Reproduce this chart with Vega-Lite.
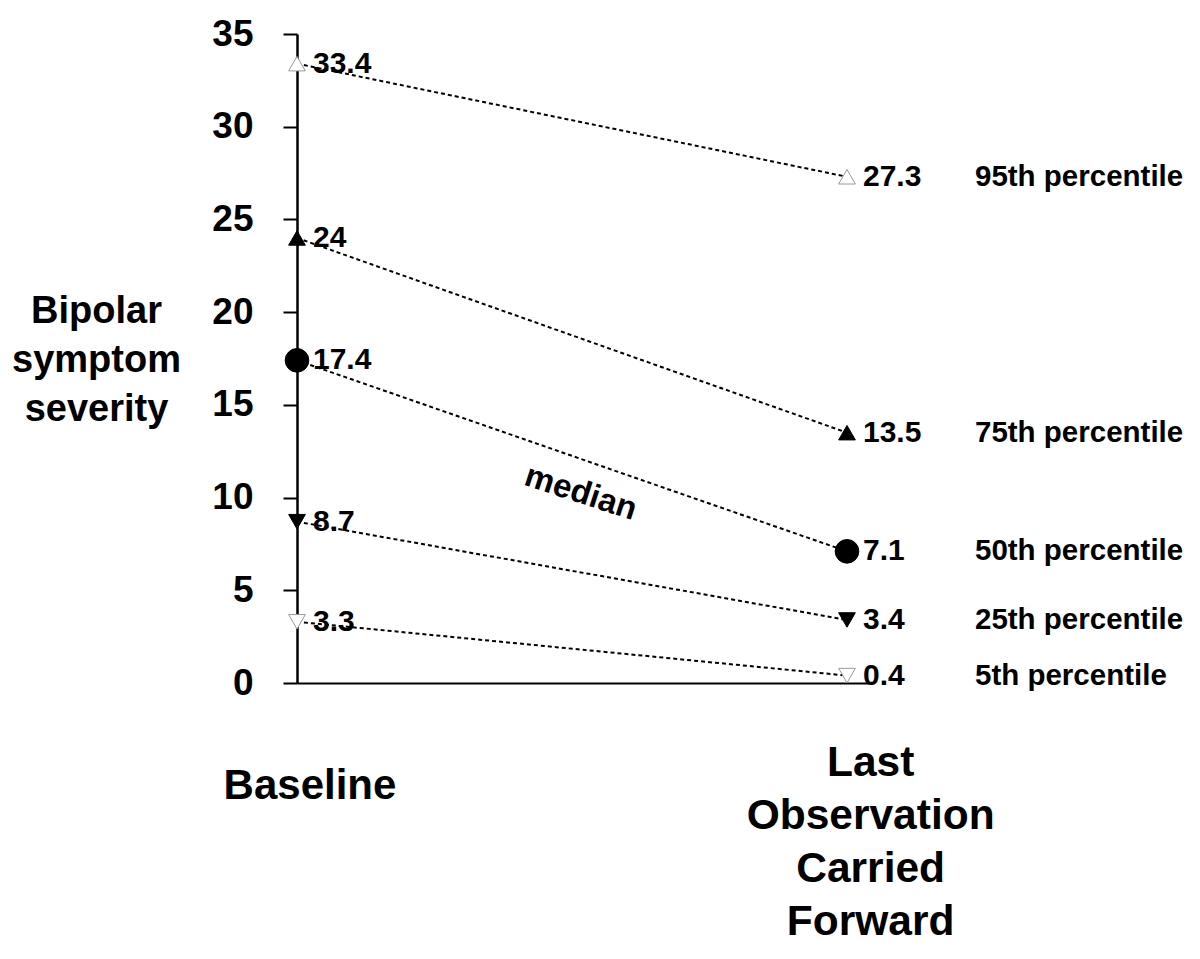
{
  "$schema": "https://vega.github.io/schema/vega-lite/v6.json",
  "autosize": {"type": "none"},
  "padding": {"left": 297, "top": 34, "right": 331, "bottom": 276},
  "width": 572,
  "height": 649,
  "background": "white",
  "config": {
    "view": {"stroke": null},
    "font": "Liberation Sans",
    "text": {"font": "Liberation Sans", "fontWeight": "bold", "color": "black"}
  },
  "datasets": {
    "series": [
      {"pct": "95th", "time": 0, "value": 33.4},
      {"pct": "95th", "time": 1, "value": 27.3},
      {"pct": "75th", "time": 0, "value": 24},
      {"pct": "75th", "time": 1, "value": 13.5},
      {"pct": "50th", "time": 0, "value": 17.4},
      {"pct": "50th", "time": 1, "value": 7.1},
      {"pct": "25th", "time": 0, "value": 8.7},
      {"pct": "25th", "time": 1, "value": 3.4},
      {"pct": "5th", "time": 0, "value": 3.3},
      {"pct": "5th", "time": 1, "value": 0.4}
    ],
    "pctLabels": [
      {"label": "95th percentile", "x": 1.2327, "y": 27.3},
      {"label": "75th percentile", "x": 1.2327, "y": 13.5},
      {"label": "50th percentile", "x": 1.2327, "y": 7.1},
      {"label": "25th percentile", "x": 1.2327, "y": 3.4},
      {"label": "5th percentile", "x": 1.2327, "y": 0.4}
    ]
  },
  "layer": [
    {
      "data": {"name": "series"},
      "mark": {"type": "line", "color": "black", "strokeWidth": 2, "strokeDash": [4, 3]},
      "encoding": {
        "x": {"field": "time", "type": "quantitative", "scale": {"domain": [0, 1.04], "nice": false, "zero": false},
              "axis": {"title": null, "labels": false, "ticks": false, "grid": false, "domain": true, "domainColor": "black", "domainWidth": 2}},
        "y": {"field": "value", "type": "quantitative", "scale": {"domain": [0, 35], "nice": false},
              "axis": {"values": [0, 5, 10, 15, 20, 25, 30, 35], "grid": false, "domainColor": "black", "domainWidth": 2.5,
                       "tickColor": "black", "tickWidth": 2, "tickSize": 14, "labelFontSize": 37, "labelFont": "Liberation Sans",
                       "labelFontWeight": "bold", "labelColor": "black", "labelPadding": 30,
                       "title": ["Bipolar", "symptom", "severity"], "titleAngle": 0, "titleX": -201, "titleY": 277,
                       "titleAlign": "center", "titleBaseline": "middle", "titleFontSize": 38, "titleFont": "Liberation Sans",
                       "titleFontWeight": "bold", "titleColor": "black", "titleLineHeight": 49}},
        "detail": {"field": "pct"}
      }
    },
    {
      "data": {"name": "series"},
      "mark": {"type": "point", "filled": true, "strokeWidth": 1, "opacity": 1},
      "encoding": {
        "x": {"field": "time", "type": "quantitative"},
        "y": {"field": "value", "type": "quantitative"},
        "shape": {"field": "pct", "type": "nominal", "legend": null,
                  "scale": {"domain": ["95th", "75th", "50th", "25th", "5th"], "range": ["triangle-up", "triangle-up", "circle", "triangle-down", "triangle-down"]}},
        "fill": {"field": "pct", "type": "nominal", "legend": null,
                 "scale": {"domain": ["95th", "75th", "50th", "25th", "5th"], "range": ["white", "black", "black", "black", "white"]}},
        "stroke": {"field": "pct", "type": "nominal", "legend": null,
                   "scale": {"domain": ["95th", "75th", "50th", "25th", "5th"], "range": ["#9a9a9a", "black", "black", "black", "#9a9a9a"]}},
        "size": {"field": "pct", "type": "ordinal", "legend": null,
                 "scale": {"type": "ordinal", "domain": ["95th", "75th", "50th", "25th", "5th"], "range": [280, 280, 560, 280, 280]}}
      }
    },
    {
      "data": {"name": "series"},
      "mark": {"type": "text", "align": "left", "baseline": "middle", "dx": 16, "fontSize": 30},
      "encoding": {
        "x": {"field": "time", "type": "quantitative"},
        "y": {"field": "value", "type": "quantitative"},
        "text": {"field": "value", "type": "quantitative"}
      }
    },
    {
      "data": {"name": "pctLabels"},
      "mark": {"type": "text", "align": "left", "baseline": "middle", "fontSize": 29.5},
      "encoding": {
        "x": {"field": "x", "type": "quantitative"},
        "y": {"field": "y", "type": "quantitative"},
        "text": {"field": "label"}
      }
    },
    {
      "data": {"values": [{"label": "median", "x": 0.516, "y": 10.25}]},
      "mark": {"type": "text", "align": "center", "baseline": "middle", "fontSize": 33, "angle": 18},
      "encoding": {
        "x": {"field": "x", "type": "quantitative"},
        "y": {"field": "y", "type": "quantitative"},
        "text": {"field": "label"}
      }
    },
    {
      "data": {"values": [{"label": "Baseline", "x": 0.0236, "y": -5.55}]},
      "mark": {"type": "text", "align": "center", "baseline": "middle", "fontSize": 42},
      "encoding": {
        "x": {"field": "x", "type": "quantitative"},
        "y": {"field": "y", "type": "quantitative"},
        "text": {"field": "label"}
      }
    },
    {
      "data": {"values": [{"label": "Last\nObservation\nCarried\nForward", "x": 1.043, "y": -4.31}]},
      "mark": {"type": "text", "align": "center", "baseline": "middle", "fontSize": 42.5, "lineBreak": "\n", "lineHeight": 53},
      "encoding": {
        "x": {"field": "x", "type": "quantitative"},
        "y": {"field": "y", "type": "quantitative"},
        "text": {"field": "label"}
      }
    }
  ]
}
